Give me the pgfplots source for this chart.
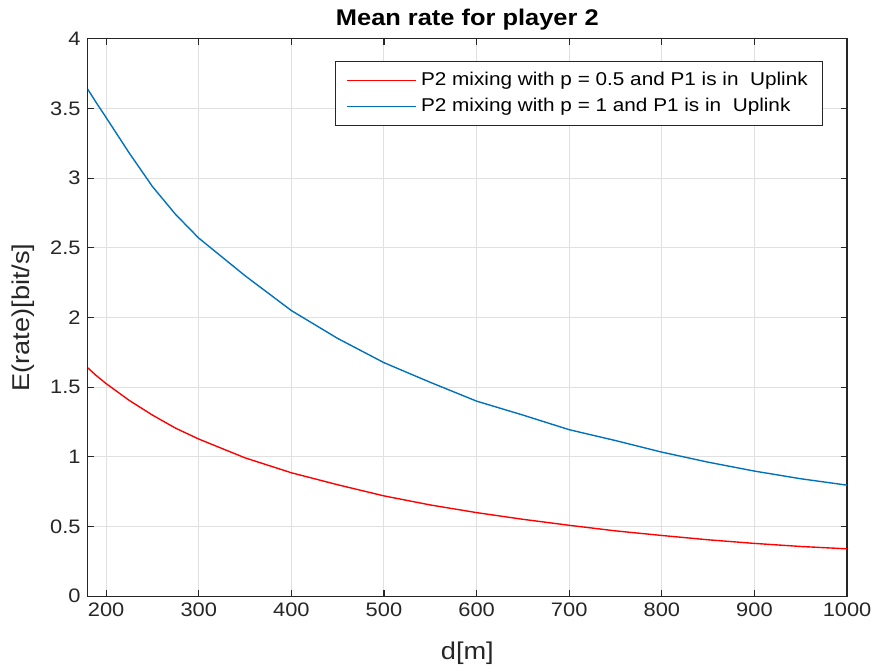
\documentclass[border=0pt]{standalone}
\usepackage{fontspec}
\setmainfont{Liberation Sans}[FakeStretch=1.12]
\usepackage{pgfplots}
\pgfplotsset{compat=1.18}
\definecolor{mblue}{rgb}{0,0.447,0.741}
\definecolor{axgray}{rgb}{0.15,0.15,0.15}
\definecolor{gridgray}{rgb}{0.88,0.88,0.88}
\begin{document}
\begin{tikzpicture}
\begin{axis}[
  scale only axis,
  width=381.5pt, height=280pt,
  xmin=180, xmax=1000, ymin=0, ymax=4,
  xtick={200,300,...,1000},
  ytick={0,0.5,...,4},
  yticklabels={0,0.5,1,1.5,2,2.5,3,3.5,4},
  /pgf/number format/assume math mode=true,
  /pgf/number format/1000 sep={},
  grid=major,
  major grid style={gridgray, line width=0.5pt},
  axis line style={axgray, line width=0.6pt},
  tick style={axgray, line width=0.6pt},
  major tick length=3pt,
  tick align=inside,
  tick pos=both,
  ticklabel style={font=\fontsize{9.8}{12}\selectfont, text=axgray},
  xlabel={d[m]},
  ylabel={E(rate)[bit/s]},
  label style={font=\fontsize{12.2}{14}\selectfont, text=axgray},
  xlabel style={yshift=-5.5pt},
  ylabel style={yshift=1pt},
  title={\textbf{Mean rate for player 2}},
  title style={font=\fontsize{11.4}{13}\selectfont, yshift=-5pt},
  legend style={at={(1,1)}, anchor=north east, xshift=-12pt, yshift=-11pt,
    font=\fontsize{9.3}{10.5}\selectfont, draw=axgray, line width=0.5pt,
    cells={anchor=west}, inner xsep=5.5pt, inner ysep=3.5pt, row sep=0.8pt},
  legend image code/.code={\draw[#1, line width=0.7pt] (0pt,0pt) -- (35pt,0pt);},
]
\addplot[red, line width=0.7pt] coordinates {
(180,1.640) (190,1.580) (200,1.526) (225,1.405) (250,1.30) (275,1.206) (300,1.128) (350,0.993) (400,0.886)
(450,0.80) (500,0.720) (550,0.655) (600,0.600) (650,0.552) (700,0.509)
(750,0.469) (800,0.436) (850,0.405) (900,0.379) (950,0.357) (1000,0.340)
};
\addlegendentry{P2 mixing with p = 0.5 and P1 is in\ \ Uplink}
\addplot[mblue, line width=0.7pt] coordinates {
(180,3.64) (190,3.535) (200,3.435) (225,3.18) (250,2.94) (275,2.74) (300,2.57) (350,2.30) (400,2.05)
(450,1.85) (500,1.676) (550,1.535) (600,1.40) (650,1.30) (700,1.195)
(750,1.117) (800,1.034) (850,0.962) (900,0.898) (950,0.843) (1000,0.797)
};
\addlegendentry{P2 mixing with p = 1 and P1 is in\ \ Uplink}
\end{axis}
\path ([xshift=-44pt,yshift=-35pt]current axis.south west) rectangle ([xshift=13.5pt,yshift=19.5pt]current axis.north east);
\end{tikzpicture}
\end{document}
